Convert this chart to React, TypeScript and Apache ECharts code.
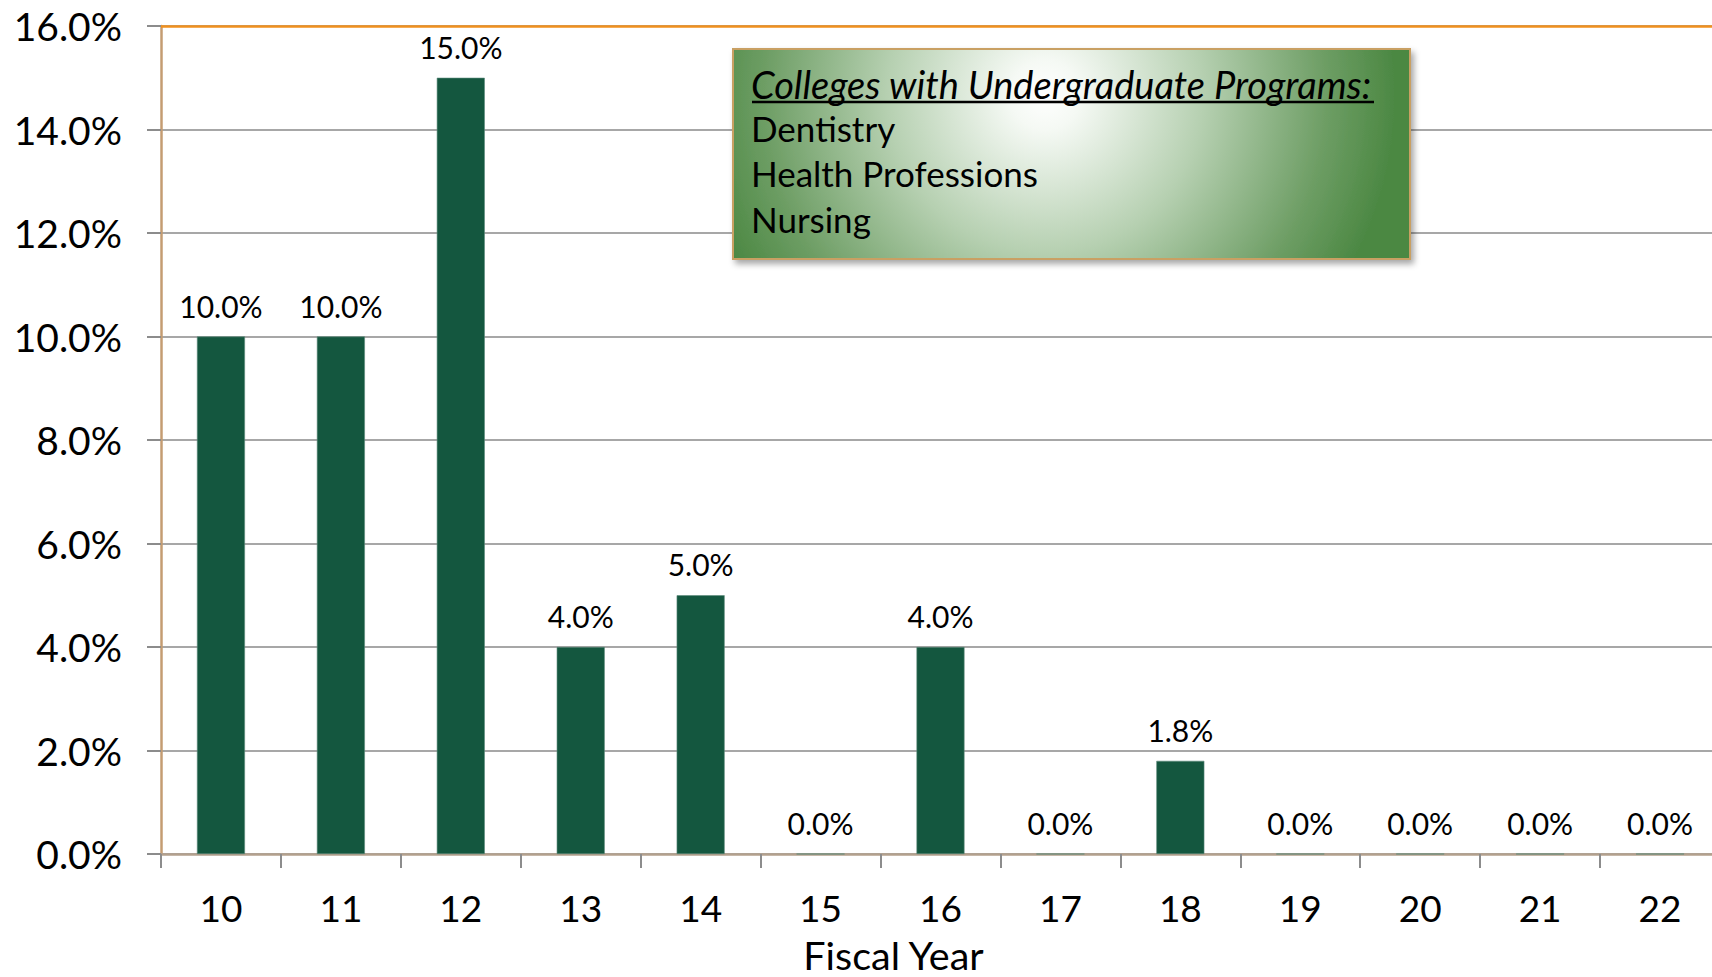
import React, { useEffect, useRef } from "react";
import * as echarts from "echarts";

const categories = ["10", "11", "12", "13", "14", "15", "16", "17", "18", "19", "20", "21", "22"];
const rates = [10.0, 10.0, 15.0, 4.0, 5.0, 0.0, 4.0, 0.0, 1.8, 0.0, 0.0, 0.0, 0.0];
const yTicks = { min: 0, max: 16, interval: 2 };
const boxTitle = "Colleges with Undergraduate Programs:";
const boxLines = ["Dentistry", "Health Professions", "Nursing"];
const axisTitle = "Fiscal Year";

const FONT = "Lato, 'Open Sans', sans-serif";

export default function App() {
  const ref = useRef<HTMLDivElement>(null);
  useEffect(() => {
    if (!ref.current) return;
    const chart = echarts.init(ref.current, null, { renderer: "svg" });
    const boxX = 733;
    const boxY = 49;
    const boxW = 677;
    const boxH = 210;
    const textX = 751;
    const lineYs = [127.5, 173, 219.3];
    chart.setOption({
      animation: false,
      backgroundColor: "#ffffff",
      grid: {
        left: 161,
        top: 26,
        width: 1559,
        height: 828,
        containLabel: false,
        outerBoundsMode: "none",
      },
      xAxis: {
        type: "category",
        data: categories,
        name: axisTitle,
        nameLocation: "middle",
        nameGap: 80,
        nameTextStyle: { fontFamily: FONT, fontSize: 39.5, color: "#000", padding: [0, 94, 0, 0] },
        axisLine: { show: true, lineStyle: { color: "#b3a08d", width: 2.5 } },
        axisTick: { show: true, alignWithLabel: false, length: 14, lineStyle: { color: "#8c8c8c", width: 2 } },
        axisLabel: { fontFamily: FONT, fontSize: 37, color: "#000", margin: 35 },
        splitLine: { show: false },
      },
      yAxis: {
        type: "value",
        min: yTicks.min,
        max: yTicks.max,
        interval: yTicks.interval,
        axisLine: { show: true, lineStyle: { color: "#c49c72", width: 2.5 } },
        axisTick: { show: true, inside: false, length: 14, lineStyle: { color: "#8c8c8c", width: 2 } },
        axisLabel: {
          fontFamily: FONT,
          fontSize: 39,
          color: "#000",
          margin: 39,
          formatter: (v: number) => v.toFixed(1) + "%",
        },
        splitLine: { show: true, lineStyle: { color: "#8a8a8a", width: 1.5 } },
      },
      series: [
        {
          type: "bar",
          data: rates,
          barWidth: 48,
          itemStyle: { color: "#14573f", borderColor: "#5d8a7a", borderWidth: 0.6 },
          label: {
            show: true,
            position: "top",
            distance: 16,
            fontFamily: FONT,
            fontSize: 30,
            color: "#000",
            formatter: (p: any) => Number(p.value).toFixed(1) + "%",
          },
          markLine: {
            silent: true,
            symbol: "none",
            label: { show: false },
            lineStyle: { color: "#f0901e", width: 2.5, type: "solid" },
            data: [{ yAxis: yTicks.max }],
          },
        },
      ],
      graphic: [
        {
          type: "rect",
          shape: { x: boxX, y: boxY, width: boxW, height: boxH },
          style: {
            fill: {
              type: "radial",
              global: true,
              x: 1045,
              y: 95,
              r: 350,
              colorStops: [
                { offset: 0, color: "#ffffff" },
                { offset: 0.1, color: "#f5f9f4" },
                { offset: 0.45, color: "#b6d0b1" },
                { offset: 0.8, color: "#6e9e65" },
                { offset: 1, color: "#4c8843" },
              ],
            },
            stroke: "#c9a063",
            lineWidth: 2,
            shadowBlur: 6,
            shadowOffsetX: 3,
            shadowOffsetY: 4,
            shadowColor: "rgba(0,0,0,0.35)",
          },
          z: 10,
        },
        {
          type: "text",
          x: textX,
          y: 83.5,
          z: 11,
          style: {
            text: boxTitle,
            fill: "#000",
            font: "italic 38px " + FONT,
            verticalAlign: "middle",
            align: "left",
          },
        },
        {
          type: "line",
          z: 11,
          shape: { x1: textX + 1, y1: 102, x2: 1374, y2: 102 },
          style: { stroke: "#000", lineWidth: 2.5 },
        },
        ...boxLines.map((t, i) => ({
          type: "text",
          x: textX,
          y: lineYs[i],
          z: 11,
          style: {
            text: t,
            fill: "#000",
            font: "35px " + FONT,
            verticalAlign: "middle",
            align: "left",
          },
        })),
      ],
    });
    return () => chart.dispose();
  }, []);
  return (
    <div
      ref={ref}
      style={{ position: "fixed", left: 0, top: 0, width: 1712, height: 977, background: "#fff" }}
    />
  );
}
